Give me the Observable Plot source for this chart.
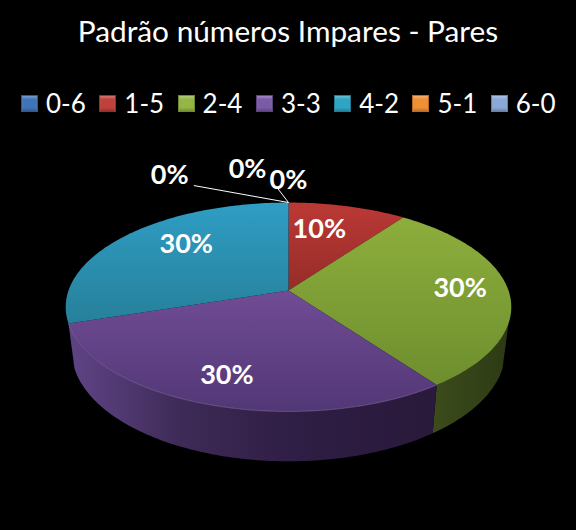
<!DOCTYPE html>
<html><head><meta charset="utf-8">
<script src="https://cdn.jsdelivr.net/npm/d3@7"></script>
<script src="https://cdn.jsdelivr.net/npm/@observablehq/plot@0.6"></script>
<style>
html,body{margin:0;padding:0;background:#000;overflow:hidden}
body{width:576px;height:530px;color:#fff;font-family:Lato,"Open Sans",sans-serif}
#head{height:130px;position:relative}
#title{position:absolute;top:13px;left:0;width:576px;text-align:center;font-size:29.8px;line-height:36px;white-space:nowrap}
#legend{position:absolute;top:86px;left:21px;display:flex;font-size:26px;line-height:34px}
.item{display:flex;align-items:center;width:78.3px;white-space:nowrap}
.sw{width:17px;height:17px;margin-right:8px;box-sizing:border-box;border:1px solid rgba(0,0,0,.25);box-shadow:inset 0 2px 2px rgba(255,255,255,.25),inset 0 -2px 2px rgba(0,0,0,.18)}
svg{display:block}
</style></head><body>
<div id="head"><div id="title"></div><div id="legend"></div></div>
<div id="chart"></div>
<script>
const titleText = "Padrão números Impares - Pares";
const categories = ["0-6","1-5","2-4","3-3","4-2","5-1","6-0"];
const shares = [0,10,30,30,30,0,0];
const swatchColors = ["#3f75b8","#c0403c","#94b645","#7b5aa8","#2fa5c4","#f09035","#8ba8d8"];
const topGradients = {
  "1-5":["#bb3935","#962c29"],
  "2-4":["#8dae3c","#6e8e2e"],
  "3-3":["#704c95","#523776"],
  "4-2":["#2f9dc4","#26809a"]
};
const labelX = [0, 0.14, 0.78, -0.28, -0.465, -0.54, -0.186];
const labelY = [0.50, 0.28, 0.01, -0.385, 0.21, 0.525, 0.55];

document.getElementById("title").textContent = titleText;
const lg = document.getElementById("legend");
categories.forEach((c,i)=>{
  const it=document.createElement("div");it.className="item";
  const s=document.createElement("span");s.className="sw";s.style.background=swatchColors[i];
  const t=document.createElement("span");t.textContent=c;
  it.append(s,t);lg.append(it);
});

// pie geometry: perspective view of a unit circle
const persp = 0.158, squash = 0.463;
const lower = {scale:0.973, squash:0.503, drop:0.195};
const project = (deg, level) => {
  const a = deg*Math.PI/180, u = Math.sin(a), v = Math.cos(a), d = 1+persp*v;
  if (level==="bottom") return {x:lower.scale*u/d, y:lower.squash*lower.scale*v/d - lower.drop};
  return {x:u/d, y:squash*v/d};
};
const arc = (a0,a1,level) => {
  const n = Math.max(2,Math.ceil(Math.abs(a1-a0)));
  return d3.range(n+1).map(i=>project(a0+(a1-a0)*i/n,level));
};
const cum = d3.cumsum(shares);
const slices = categories.map((c,i)=>({c,i,a0:(cum[i]-shares[i])*3.6,a1:cum[i]*3.6})).filter(d=>shares[d.i]>0);

const wallStart = 108, wallEnd = 252;
const wall = (a0,a1)=>[...arc(a0,a1,"top"),...arc(a1,a0,"bottom")];
const sliceFor = c => slices.find(d=>d.c===c);
const green = sliceFor("2-4"), purple = sliceFor("3-3");

const defs = () => {
  const d = d3.create("svg:defs");
  for (const [c,[a,b]] of Object.entries(topGradients)) {
    const g = d.append("linearGradient").attr("id","top"+c).attr("x1",0).attr("x2",0).attr("y1",0).attr("y2",1);
    g.append("stop").attr("offset",0).attr("stop-color",a);
    g.append("stop").attr("offset",1).attr("stop-color",b);
  }
  const w1 = d.append("linearGradient").attr("id","wallPurple");
  [[0,"#5f4484"],[0.1,"#553c78"],[0.3,"#3e2b57"],[0.6,"#2f1e45"],[1,"#29193a"]].forEach(([o,c])=>w1.append("stop").attr("offset",o).attr("stop-color",c));
  const w2 = d.append("linearGradient").attr("id","wallGreen");
  [[0,"#3c4c1c"],[1,"#2d3a14"]].forEach(([o,c])=>w2.append("stop").attr("offset",o).attr("stop-color",c));
  return d.node();
};

const apex = project(0,"top");
const marks = [
  defs,
  Plot.line(wall(wallStart,green.a1),{x:"x",y:"y",fill:"url(#wallGreen)",stroke:"none"}),
  Plot.line(wall(purple.a0,wallEnd),{x:"x",y:"y",fill:"url(#wallPurple)",stroke:"none"}),
  ...slices.map(s=>Plot.line([{x:0,y:0},...arc(s.a0,s.a1,"top")],{x:"x",y:"y",fill:`url(#top${s.c})`,stroke:"none"})),
  Plot.line(arc(purple.a0,wallEnd,"top"),{x:"x",y:"y",stroke:"#a48cc4",strokeWidth:1,strokeOpacity:0.4}),
  Plot.link([{x1:-0.43,y1:0.477,x2:apex.x,y2:apex.y},{x1:-0.05,y1:0.465,x2:apex.x,y2:apex.y}],
    {x1:"x1",y1:"y1",x2:"x2",y2:"y2",stroke:"#fff",strokeWidth:1}),
  Plot.text(shares.map((v,i)=>({label:v+"%",x:labelX[i],y:labelY[i]})),
    {x:"x",y:"y",text:"label",fill:"#fff",fontSize:27,fontWeight:700,fontFamily:"Lato, sans-serif",textAnchor:"middle",lineAnchor:"middle"})
];
const pxPerUnit = 220, cxPx = 288, cyPx = 160, w = 576, h = 400;
document.getElementById("chart").append(Plot.plot({
  width:w,height:h,margin:0,
  style:{background:"#000",color:"#fff"},
  x:{domain:[-cxPx/pxPerUnit,(w-cxPx)/pxPerUnit],range:[0,w],axis:null},
  y:{domain:[cyPx/pxPerUnit,(cyPx-h)/pxPerUnit],range:[0,h],axis:null},
  marks
}));
</script>
</body></html>
